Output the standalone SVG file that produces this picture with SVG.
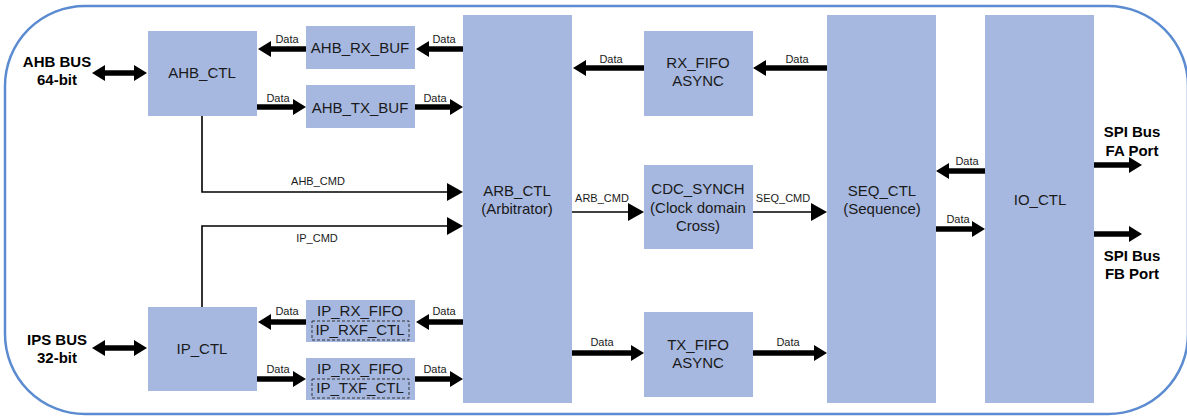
<svg xmlns="http://www.w3.org/2000/svg" width="1187" height="417" viewBox="0 0 1187 417">
<style>
.node{fill:#a6b8e0;}
.t{font-family:"Liberation Sans",Arial,sans-serif;font-size:15px;fill:#1a1a1a;text-anchor:middle;}
.b{font-family:"Liberation Sans",Arial,sans-serif;font-size:15px;font-weight:bold;fill:#000;text-anchor:middle;}
.l{font-family:"Liberation Sans",Arial,sans-serif;font-size:11px;fill:#1a1a1a;text-anchor:middle;}
.thick{stroke:#000;stroke-width:5.5;fill:none;marker-end:url(#hk);}
.dbl{marker-start:url(#hk);}
.thin{stroke:#000;stroke-width:1.6;fill:none;marker-end:url(#hn);}
.dash{fill:none;stroke:#333;stroke-width:1;stroke-dasharray:3,2;}
</style>
<defs>
<marker id="hk" markerUnits="userSpaceOnUse" markerWidth="14" markerHeight="16" refX="0" refY="8" orient="auto-start-reverse" overflow="visible"><path d="M0,0 L13,8 L0,16 z" fill="#000"/></marker>
<marker id="hn" markerUnits="userSpaceOnUse" markerWidth="17" markerHeight="18" refX="0" refY="9" orient="auto" overflow="visible"><path d="M0,0 L16,9 L0,18 z" fill="#000"/></marker>
</defs>
<rect x="5" y="6" width="1183" height="408" rx="80" ry="80" fill="#fff" stroke="#5b8bd0" stroke-width="2.5"/>

<g id="ahb_ctl"><rect class="node" x="148" y="31" width="109" height="85"/><text class="t" x="202" y="78">AHB_CTL</text></g>
<g id="ahb_rx_buf"><rect class="node" x="306" y="26" width="109" height="43"/><text class="t" x="360" y="53">AHB_RX_BUF</text></g>
<g id="ahb_tx_buf"><rect class="node" x="306" y="85" width="109" height="43"/><text class="t" x="360" y="113">AHB_TX_BUF</text></g>
<g id="ip_ctl"><rect class="node" x="148" y="307" width="109" height="84"/><text class="t" x="202" y="354">IP_CTL</text></g>
<g id="ip_rx_fifo"><rect class="node" x="306" y="300" width="109" height="42"/><text class="t" x="360" y="316">IP_RX_FIFO</text><rect class="dash" x="312" y="321" width="97" height="19"/><text class="t" x="360" y="335">IP_RXF_CTL</text></g>
<g id="ip_tx_fifo"><rect class="node" x="306" y="358" width="109" height="42"/><text class="t" x="360" y="374">IP_RX_FIFO</text><rect class="dash" x="312" y="379" width="97" height="19"/><text class="t" x="360" y="393">IP_TXF_CTL</text></g>
<g id="arb_ctl"><rect class="node" x="463" y="15" width="109" height="388"/><text class="t" x="517" y="196">ARB_CTL</text><text class="t" x="517" y="214">(Arbitrator)</text></g>
<g id="rx_fifo"><rect class="node" x="644" y="31" width="109" height="85"/><text class="t" x="698" y="68">RX_FIFO</text><text class="t" x="698" y="86">ASYNC</text></g>
<g id="cdc_synch"><rect class="node" x="644" y="165" width="109" height="84"/><text class="t" x="698" y="194">CDC_SYNCH</text><text class="t" x="698" y="213">(Clock domain</text><text class="t" x="698" y="231">Cross)</text></g>
<g id="tx_fifo"><rect class="node" x="644" y="312" width="109" height="85"/><text class="t" x="698" y="350">TX_FIFO</text><text class="t" x="698" y="368">ASYNC</text></g>
<g id="seq_ctl"><rect class="node" x="827" y="15" width="109" height="388"/><text class="t" x="882" y="196">SEQ_CTL</text><text class="t" x="882" y="214">(Sequence)</text></g>
<g id="io_ctl"><rect class="node" x="985" y="15" width="109" height="388"/><text class="t" x="1040" y="205">IO_CTL</text></g>

<g id="ext_labels">
<text class="b" x="57" y="67">AHB BUS</text><text class="b" x="57" y="85">64-bit</text>
<text class="b" x="57" y="345">IPS BUS</text><text class="b" x="57" y="363">32-bit</text>
<text class="b" x="1132" y="137">SPI Bus</text><text class="b" x="1132" y="156">FA Port</text>
<text class="b" x="1132" y="261">SPI Bus</text><text class="b" x="1132" y="279">FB Port</text>
</g>

<g id="connectors">
<line class="thick dbl" x1="105" y1="73" x2="134" y2="73"/>
<line class="thick" x1="306" y1="49" x2="271" y2="49"/>
<line class="thick" x1="463" y1="49" x2="429" y2="49"/>
<line class="thick" x1="257" y1="107" x2="293" y2="107"/>
<line class="thick" x1="415" y1="107" x2="450" y2="107"/>
<line class="thick" x1="644" y1="68" x2="586" y2="68"/>
<line class="thick" x1="827" y1="68" x2="766" y2="68"/>
<line class="thick" x1="572" y1="353" x2="631" y2="353"/>
<line class="thick" x1="753" y1="353" x2="814" y2="353"/>
<line class="thick" x1="985" y1="171" x2="949" y2="171"/>
<line class="thick" x1="936" y1="229" x2="972" y2="229"/>
<line class="thick" x1="1094" y1="165" x2="1129" y2="165"/>
<line class="thick" x1="1094" y1="234" x2="1129" y2="234"/>
<line class="thick dbl" x1="105" y1="348" x2="134" y2="348"/>
<line class="thick" x1="463" y1="322" x2="429" y2="322"/>
<line class="thick" x1="306" y1="322" x2="271" y2="322"/>
<line class="thick" x1="257" y1="379" x2="293" y2="379"/>
<line class="thick" x1="415" y1="379" x2="450" y2="379"/>
<path class="thin" d="M202,116 V192 H447"/>
<path class="thin" d="M202,307 V226 H447"/>
<path class="thin" d="M572,212 H628"/>
<path class="thin" d="M753,212 H811"/>
<text class="l" x="287" y="43">Data</text><text class="l" x="444" y="43">Data</text>
<text class="l" x="278" y="102">Data</text><text class="l" x="435" y="102">Data</text>
<text class="l" x="611" y="63">Data</text><text class="l" x="797" y="63">Data</text>
<text class="l" x="602" y="346">Data</text><text class="l" x="788" y="346">Data</text>
<text class="l" x="967" y="165">Data</text><text class="l" x="958" y="223">Data</text>
<text class="l" x="287" y="315">Data</text><text class="l" x="444" y="315">Data</text>
<text class="l" x="278" y="373">Data</text><text class="l" x="435" y="373">Data</text>
<text class="l" x="318" y="185">AHB_CMD</text><text class="l" x="317" y="242">IP_CMD</text>
<text class="l" x="602" y="202">ARB_CMD</text><text class="l" x="783" y="202">SEQ_CMD</text>
</g>
</svg>
